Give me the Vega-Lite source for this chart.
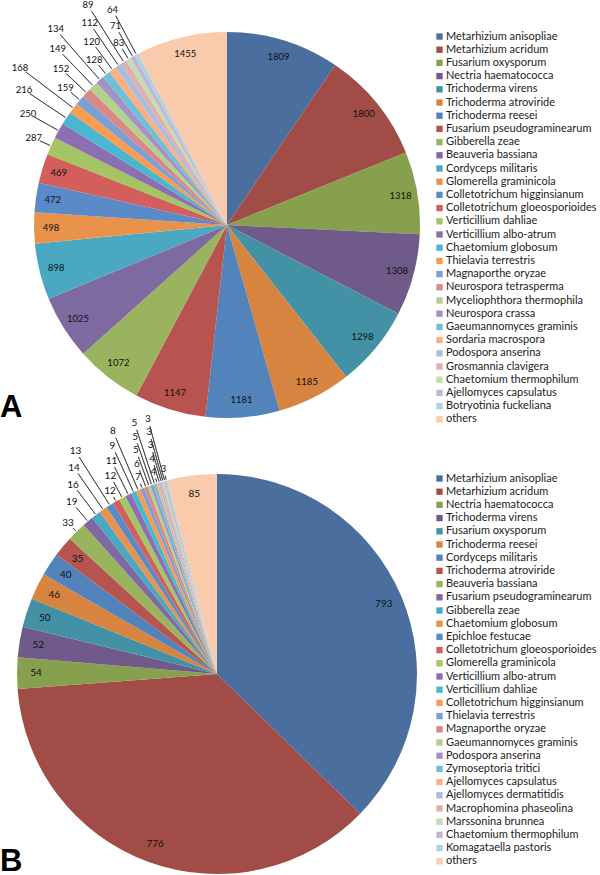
{
  "$schema": "https://vega.github.io/schema/vega-lite/v6.json",
  "background": "white",
  "padding": {"left": 0, "top": 0, "right": 0, "bottom": 0},
  "config": {"view": {"stroke": null}, "font": "Lato"},
  "datasets": {
    "a": [
      {"idx": 0, "species": "Metarhizium anisopliae", "value": 1809},
      {"idx": 1, "species": "Metarhizium acridum", "value": 1800},
      {"idx": 2, "species": "Fusarium oxysporum", "value": 1318},
      {"idx": 3, "species": "Nectria haematococca", "value": 1308},
      {"idx": 4, "species": "Trichoderma virens", "value": 1298},
      {"idx": 5, "species": "Trichoderma atroviride", "value": 1185},
      {"idx": 6, "species": "Trichoderma reesei", "value": 1181},
      {"idx": 7, "species": "Fusarium pseudograminearum", "value": 1147},
      {"idx": 8, "species": "Gibberella zeae", "value": 1072},
      {"idx": 9, "species": "Beauveria bassiana", "value": 1025},
      {"idx": 10, "species": "Cordyceps militaris", "value": 898},
      {"idx": 11, "species": "Glomerella graminicola", "value": 498},
      {"idx": 12, "species": "Colletotrichum higginsianum", "value": 472},
      {"idx": 13, "species": "Colletotrichum gloeosporioides", "value": 469},
      {"idx": 14, "species": "Verticillium dahliae", "value": 287},
      {"idx": 15, "species": "Verticillium albo-atrum", "value": 250},
      {"idx": 16, "species": "Chaetomium globosum", "value": 216},
      {"idx": 17, "species": "Thielavia terrestris", "value": 168},
      {"idx": 18, "species": "Magnaporthe oryzae", "value": 159},
      {"idx": 19, "species": "Neurospora tetrasperma", "value": 152},
      {"idx": 20, "species": "Myceliophthora thermophila", "value": 149},
      {"idx": 21, "species": "Neurospora crassa", "value": 134},
      {"idx": 22, "species": "Gaeumannomyces graminis", "value": 128},
      {"idx": 23, "species": "Sordaria macrospora", "value": 120},
      {"idx": 24, "species": "Podospora anserina", "value": 112},
      {"idx": 25, "species": "Grosmannia clavigera", "value": 89},
      {"idx": 26, "species": "Chaetomium thermophilum", "value": 83},
      {"idx": 27, "species": "Ajellomyces capsulatus", "value": 71},
      {"idx": 28, "species": "Botryotinia fuckeliana", "value": 64},
      {"idx": 29, "species": "others", "value": 1455}
    ],
    "b": [
      {"idx": 0, "species": "Metarhizium anisopliae", "value": 793},
      {"idx": 1, "species": "Metarhizium acridum", "value": 776},
      {"idx": 2, "species": "Nectria haematococca", "value": 54},
      {"idx": 3, "species": "Trichoderma virens", "value": 52},
      {"idx": 4, "species": "Fusarium oxysporum", "value": 50},
      {"idx": 5, "species": "Trichoderma reesei", "value": 46},
      {"idx": 6, "species": "Cordyceps militaris", "value": 40},
      {"idx": 7, "species": "Trichoderma atroviride", "value": 35},
      {"idx": 8, "species": "Beauveria bassiana", "value": 33},
      {"idx": 9, "species": "Fusarium pseudograminearum", "value": 19},
      {"idx": 10, "species": "Gibberella zeae", "value": 16},
      {"idx": 11, "species": "Chaetomium globosum", "value": 14},
      {"idx": 12, "species": "Epichloe festucae", "value": 13},
      {"idx": 13, "species": "Colletotrichum gloeosporioides", "value": 12},
      {"idx": 14, "species": "Glomerella graminicola", "value": 12},
      {"idx": 15, "species": "Verticillium albo-atrum", "value": 11},
      {"idx": 16, "species": "Verticillium dahliae", "value": 9},
      {"idx": 17, "species": "Colletotrichum higginsianum", "value": 8},
      {"idx": 18, "species": "Thielavia terrestris", "value": 7},
      {"idx": 19, "species": "Magnaporthe oryzae", "value": 6},
      {"idx": 20, "species": "Gaeumannomyces graminis", "value": 5},
      {"idx": 21, "species": "Podospora anserina", "value": 5},
      {"idx": 22, "species": "Zymoseptoria tritici", "value": 5},
      {"idx": 23, "species": "Ajellomyces capsulatus", "value": 4},
      {"idx": 24, "species": "Ajellomyces dermatitidis", "value": 4},
      {"idx": 25, "species": "Macrophomina phaseolina", "value": 3},
      {"idx": 26, "species": "Marssonina brunnea", "value": 3},
      {"idx": 27, "species": "Chaetomium thermophilum", "value": 3},
      {"idx": 28, "species": "Komagataella pastoris", "value": 3},
      {"idx": 29, "species": "others", "value": 85}
    ]
  },
  "vconcat": [
    {
      "width": 454,
      "height": 386,
      "data": {"name": "a"},
      "transform": [{"stack": "value", "groupby": [], "sort": [{"field": "idx", "order": "ascending"}], "as": ["v0", "v1"]}],
      "title": {"text": "A", "orient": "bottom", "anchor": "start", "frame": "group", "font": "Liberation Sans", "fontSize": 31, "fontWeight": "bold", "baseline": "alphabetic", "offset": -8, "color": "#000"},
      "layer": [
        {
          "mark": {"type": "arc"},
          "encoding": {
            "theta": {"field": "v0", "type": "quantitative", "scale": {"domain": [0, 19117]}},
            "theta2": {"field": "v1"},
            "color": {
              "field": "species", "type": "nominal",
              "scale": {
                "domain": ["Metarhizium anisopliae", "Metarhizium acridum", "Fusarium oxysporum", "Nectria haematococca", "Trichoderma virens", "Trichoderma atroviride", "Trichoderma reesei", "Fusarium pseudograminearum", "Gibberella zeae", "Beauveria bassiana", "Cordyceps militaris", "Glomerella graminicola", "Colletotrichum higginsianum", "Colletotrichum gloeosporioides", "Verticillium dahliae", "Verticillium albo-atrum", "Chaetomium globosum", "Thielavia terrestris", "Magnaporthe oryzae", "Neurospora tetrasperma", "Myceliophthora thermophila", "Neurospora crassa", "Gaeumannomyces graminis", "Sordaria macrospora", "Podospora anserina", "Grosmannia clavigera", "Chaetomium thermophilum", "Ajellomyces capsulatus", "Botryotinia fuckeliana", "others"],
                "range": ["#4A6F9E", "#A14C47", "#86A04E", "#6F5A8A", "#4391A5", "#D6843F", "#5283BA", "#B85450", "#9AB35E", "#7E6AA0", "#4BA8C2", "#E8924B", "#5A8BC8", "#D35F5C", "#A5C463", "#8B6FB0", "#4BB6D0", "#F99C4F", "#7E9FD3", "#D88886", "#B5CF8C", "#A592C4", "#6EC0D8", "#FBB07E", "#A9BDE0", "#E0AEAD", "#C9DBAE", "#C0B5D6", "#A8D4E3", "#F9CAAB"]
              },
              "legend": {"orient": "none", "legendX": 434, "legendY": -1, "title": null, "symbolType": "square", "symbolSize": 40, "symbolStrokeWidth": 0, "symbolOpacity": 1, "labelFont": "Lato", "labelFontSize": 11, "labelColor": "#222", "labelLimit": 0, "labelOffset": 1, "rowPadding": 1.2, "padding": 0}
            }
          }
        },
        {
          "transform": [{"filter": "datum.idx <= 13 || datum.idx == 29"}, {"fold": ["v0", "v1"], "as": ["edge", "pos"]}, {"aggregate": [{"op": "mean", "field": "pos", "as": "mid"}], "groupby": ["idx", "value"]}],
          "mark": {"type": "text", "radius": 176, "font": "Lato", "fontSize": 9.5, "color": "#111"},
          "encoding": {"theta": {"field": "mid", "type": "quantitative"}, "text": {"field": "value", "type": "quantitative"}}
        },
        {
          "transform": [{"filter": "indexof([14, 18, 22, 26], datum.idx) >= 0"}, {"fold": ["v0", "v1"], "as": ["edge", "pos"]}, {"aggregate": [{"op": "mean", "field": "pos", "as": "mid"}], "groupby": ["idx", "value"]}],
          "layer": [
            {"mark": {"type": "arc", "innerRadius": 194, "outerRadius": 205, "stroke": "#333", "strokeWidth": 0.7, "fillOpacity": 0}, "encoding": {"theta": {"field": "mid", "type": "quantitative"}, "theta2": {"field": "mid"}}},
            {"mark": {"type": "text", "radius": 212, "font": "Lato", "fontSize": 9.5, "color": "#111"}, "encoding": {"theta": {"field": "mid", "type": "quantitative"}, "text": {"field": "value", "type": "quantitative"}}}
          ]
        },
        {
          "transform": [{"filter": "indexof([15, 19, 23, 27], datum.idx) >= 0"}, {"fold": ["v0", "v1"], "as": ["edge", "pos"]}, {"aggregate": [{"op": "mean", "field": "pos", "as": "mid"}], "groupby": ["idx", "value"]}],
          "layer": [
            {"mark": {"type": "arc", "innerRadius": 194, "outerRadius": 221, "stroke": "#333", "strokeWidth": 0.7, "fillOpacity": 0}, "encoding": {"theta": {"field": "mid", "type": "quantitative"}, "theta2": {"field": "mid"}}},
            {"mark": {"type": "text", "radius": 228, "font": "Lato", "fontSize": 9.5, "color": "#111"}, "encoding": {"theta": {"field": "mid", "type": "quantitative"}, "text": {"field": "value", "type": "quantitative"}}}
          ]
        },
        {
          "transform": [{"filter": "indexof([16, 20, 24, 28], datum.idx) >= 0"}, {"fold": ["v0", "v1"], "as": ["edge", "pos"]}, {"aggregate": [{"op": "mean", "field": "pos", "as": "mid"}], "groupby": ["idx", "value"]}],
          "layer": [
            {"mark": {"type": "arc", "innerRadius": 194, "outerRadius": 237, "stroke": "#333", "strokeWidth": 0.7, "fillOpacity": 0}, "encoding": {"theta": {"field": "mid", "type": "quantitative"}, "theta2": {"field": "mid"}}},
            {"mark": {"type": "text", "radius": 244, "font": "Lato", "fontSize": 9.5, "color": "#111"}, "encoding": {"theta": {"field": "mid", "type": "quantitative"}, "text": {"field": "value", "type": "quantitative"}}}
          ]
        },
        {
          "transform": [{"filter": "indexof([17, 21, 25], datum.idx) >= 0"}, {"fold": ["v0", "v1"], "as": ["edge", "pos"]}, {"aggregate": [{"op": "mean", "field": "pos", "as": "mid"}], "groupby": ["idx", "value"]}],
          "layer": [
            {"mark": {"type": "arc", "innerRadius": 194, "outerRadius": 253, "stroke": "#333", "strokeWidth": 0.7, "fillOpacity": 0}, "encoding": {"theta": {"field": "mid", "type": "quantitative"}, "theta2": {"field": "mid"}}},
            {"mark": {"type": "text", "radius": 260, "font": "Lato", "fontSize": 9.5, "color": "#111"}, "encoding": {"theta": {"field": "mid", "type": "quantitative"}, "text": {"field": "value", "type": "quantitative"}}}
          ]
        }
      ]
    },
    {
      "width": 434,
      "height": 400,
      "data": {"name": "b"},
      "transform": [{"stack": "value", "groupby": [], "sort": [{"field": "idx", "order": "ascending"}], "as": ["v0", "v1"]}],
      "title": {"text": "B", "orient": "bottom", "anchor": "start", "frame": "group", "font": "Liberation Sans", "fontSize": 31, "fontWeight": "bold", "baseline": "alphabetic", "offset": -3, "color": "#000"},
      "layer": [
        {
          "mark": {"type": "arc"},
          "encoding": {
            "theta": {"field": "v0", "type": "quantitative", "scale": {"domain": [0, 2126]}},
            "theta2": {"field": "v1"},
            "color": {
              "field": "species", "type": "nominal",
              "scale": {
                "domain": ["Metarhizium anisopliae", "Metarhizium acridum", "Nectria haematococca", "Trichoderma virens", "Fusarium oxysporum", "Trichoderma reesei", "Cordyceps militaris", "Trichoderma atroviride", "Beauveria bassiana", "Fusarium pseudograminearum", "Gibberella zeae", "Chaetomium globosum", "Epichloe festucae", "Colletotrichum gloeosporioides", "Glomerella graminicola", "Verticillium albo-atrum", "Verticillium dahliae", "Colletotrichum higginsianum", "Thielavia terrestris", "Magnaporthe oryzae", "Gaeumannomyces graminis", "Podospora anserina", "Zymoseptoria tritici", "Ajellomyces capsulatus", "Ajellomyces dermatitidis", "Macrophomina phaseolina", "Marssonina brunnea", "Chaetomium thermophilum", "Komagataella pastoris", "others"],
                "range": ["#4A6F9E", "#A14C47", "#86A04E", "#6F5A8A", "#4391A5", "#D6843F", "#5283BA", "#B85450", "#9AB35E", "#7E6AA0", "#4BA8C2", "#E8924B", "#5A8BC8", "#D35F5C", "#A5C463", "#8B6FB0", "#4BB6D0", "#F99C4F", "#7E9FD3", "#D88886", "#B5CF8C", "#A592C4", "#6EC0D8", "#FBB07E", "#A9BDE0", "#E0AEAD", "#C9DBAE", "#C0B5D6", "#A8D4E3", "#F9CAAB"]
              },
              "legend": {"orient": "none", "legendX": 434, "legendY": -1, "title": null, "symbolType": "square", "symbolSize": 40, "symbolStrokeWidth": 0, "symbolOpacity": 1, "labelFont": "Lato", "labelFontSize": 11, "labelColor": "#222", "labelLimit": 0, "labelOffset": 1, "rowPadding": 1.2, "padding": 0}
            }
          }
        },
        {
          "transform": [{"filter": "datum.idx <= 7 || datum.idx == 29"}, {"fold": ["v0", "v1"], "as": ["edge", "pos"]}, {"aggregate": [{"op": "mean", "field": "pos", "as": "mid"}], "groupby": ["idx", "value"]}],
          "mark": {"type": "text", "radius": 181, "font": "Lato", "fontSize": 10, "color": "#111"},
          "encoding": {"theta": {"field": "mid", "type": "quantitative"}, "text": {"field": "value", "type": "quantitative"}}
        },
        {
          "transform": [{"filter": "indexof([8, 13, 18, 23, 28], datum.idx) >= 0"}, {"fold": ["v0", "v1"], "as": ["edge", "pos"]}, {"aggregate": [{"op": "mean", "field": "pos", "as": "mid"}], "groupby": ["idx", "value"]}],
          "layer": [
            {"mark": {"type": "arc", "innerRadius": 201, "outerRadius": 205, "stroke": "#333", "strokeWidth": 0.7, "fillOpacity": 0}, "encoding": {"theta": {"field": "mid", "type": "quantitative"}, "theta2": {"field": "mid"}}},
            {"mark": {"type": "text", "radius": 212, "font": "Lato", "fontSize": 10, "color": "#111"}, "encoding": {"theta": {"field": "mid", "type": "quantitative"}, "text": {"field": "value", "type": "quantitative"}}}
          ]
        },
        {
          "transform": [{"filter": "indexof([9, 14, 19, 24], datum.idx) >= 0"}, {"fold": ["v0", "v1"], "as": ["edge", "pos"]}, {"aggregate": [{"op": "mean", "field": "pos", "as": "mid"}], "groupby": ["idx", "value"]}],
          "layer": [
            {"mark": {"type": "arc", "innerRadius": 201, "outerRadius": 218, "stroke": "#333", "strokeWidth": 0.7, "fillOpacity": 0}, "encoding": {"theta": {"field": "mid", "type": "quantitative"}, "theta2": {"field": "mid"}}},
            {"mark": {"type": "text", "radius": 225, "font": "Lato", "fontSize": 10, "color": "#111"}, "encoding": {"theta": {"field": "mid", "type": "quantitative"}, "text": {"field": "value", "type": "quantitative"}}}
          ]
        },
        {
          "transform": [{"filter": "indexof([10, 15, 20, 25], datum.idx) >= 0"}, {"fold": ["v0", "v1"], "as": ["edge", "pos"]}, {"aggregate": [{"op": "mean", "field": "pos", "as": "mid"}], "groupby": ["idx", "value"]}],
          "layer": [
            {"mark": {"type": "arc", "innerRadius": 201, "outerRadius": 231, "stroke": "#333", "strokeWidth": 0.7, "fillOpacity": 0}, "encoding": {"theta": {"field": "mid", "type": "quantitative"}, "theta2": {"field": "mid"}}},
            {"mark": {"type": "text", "radius": 238, "font": "Lato", "fontSize": 10, "color": "#111"}, "encoding": {"theta": {"field": "mid", "type": "quantitative"}, "text": {"field": "value", "type": "quantitative"}}}
          ]
        },
        {
          "transform": [{"filter": "indexof([11, 16, 21, 26], datum.idx) >= 0"}, {"fold": ["v0", "v1"], "as": ["edge", "pos"]}, {"aggregate": [{"op": "mean", "field": "pos", "as": "mid"}], "groupby": ["idx", "value"]}],
          "layer": [
            {"mark": {"type": "arc", "innerRadius": 201, "outerRadius": 244, "stroke": "#333", "strokeWidth": 0.7, "fillOpacity": 0}, "encoding": {"theta": {"field": "mid", "type": "quantitative"}, "theta2": {"field": "mid"}}},
            {"mark": {"type": "text", "radius": 251, "font": "Lato", "fontSize": 10, "color": "#111"}, "encoding": {"theta": {"field": "mid", "type": "quantitative"}, "text": {"field": "value", "type": "quantitative"}}}
          ]
        },
        {
          "transform": [{"filter": "indexof([12, 17, 22, 27], datum.idx) >= 0"}, {"fold": ["v0", "v1"], "as": ["edge", "pos"]}, {"aggregate": [{"op": "mean", "field": "pos", "as": "mid"}], "groupby": ["idx", "value"]}],
          "layer": [
            {"mark": {"type": "arc", "innerRadius": 201, "outerRadius": 257, "stroke": "#333", "strokeWidth": 0.7, "fillOpacity": 0}, "encoding": {"theta": {"field": "mid", "type": "quantitative"}, "theta2": {"field": "mid"}}},
            {"mark": {"type": "text", "radius": 264, "font": "Lato", "fontSize": 10, "color": "#111"}, "encoding": {"theta": {"field": "mid", "type": "quantitative"}, "text": {"field": "value", "type": "quantitative"}}}
          ]
        }
      ]
    }
  ],
  "spacing": 56,
  "bounds": "flush",
  "resolve": {"scale": {"color": "independent", "theta": "independent"}, "legend": {"color": "independent"}}
}
